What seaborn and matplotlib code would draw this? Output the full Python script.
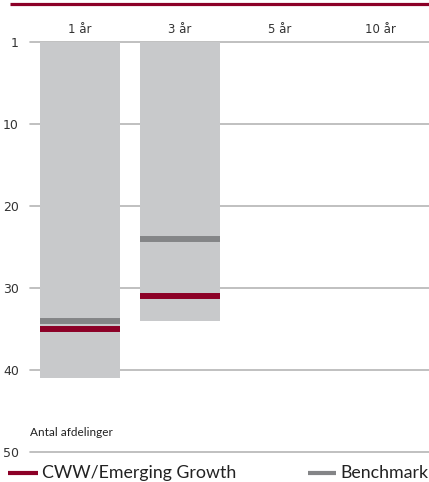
import matplotlib
matplotlib.use("Agg")
import matplotlib.pyplot as plt
from matplotlib.lines import Line2D
import seaborn as sns
import pandas as pd
import numpy as np

# Ranking data per period (rank 1 at the top)
periods = ["1 år", "3 år", "5 år", "10 år"]
num_funds = [41, 34, np.nan, np.nan]      # number of funds in the peer group
fund_rank = [35, 31, np.nan, np.nan]      # CWW/Emerging Growth
benchmark_rank = [34, 24, np.nan, np.nan]  # Benchmark
y_ticks = [0, 10, 20, 30, 40, 50]
y_tick_labels = ["1", "10", "20", "30", "40", "50"]

RED = "#8C0027"
BAR_GREY = "#C8C9CB"
MARK_GREY = "#848587"
GRID = "#B5B5B5"

sns.set_theme(style="white")
plt.rcParams["font.family"] = ["DejaVu Sans"]

fig = plt.figure(figsize=(4.29, 4.82), dpi=100)
W, H = 429, 482
ax = fig.add_axes([30 / W, 1 - 452 / H, 400 / W, 410 / H])

df = pd.DataFrame({"period": periods, "funds": num_funds})
sns.barplot(data=df, x="period", y="funds", order=periods, color=BAR_GREY,
            width=0.8, saturation=1, linewidth=0, edgecolor="none",
            ax=ax, zorder=2)

for i, (b, f) in enumerate(zip(benchmark_rank, fund_rank)):
    if not np.isnan(b):
        ax.hlines(b, i - 0.4, i + 0.4, color=MARK_GREY, lw=4.3, zorder=3)
    if not np.isnan(f):
        ax.hlines(f, i - 0.4, i + 0.4, color=RED, lw=4.3, zorder=4)

ax.set_xlim(-0.5, 3.5)
ax.set_ylim(50, 0)
ax.set_yticks(y_ticks)
ax.set_yticklabels(y_tick_labels, fontsize=9, color="#333333")
for yv in y_ticks:
    ax.axhline(yv, color=GRID, lw=1.2, zorder=1, clip_on=False)

ax.xaxis.tick_top()
ax.tick_params(axis="x", length=0, pad=4, labelsize=8.5, labelcolor="#333333")
ax.tick_params(axis="y", length=0, pad=8)
ax.set_xlabel("")
ax.set_ylabel("")
for s in ax.spines.values():
    s.set_visible(False)

# Top rule
fig.add_artist(Line2D([10 / W, 1], [1 - 4 / H, 1 - 4 / H], color=RED, lw=2.3,
                      solid_capstyle="butt"))

fig.text(30 / W, 1 - 433 / H, "Antal afdelinger", fontsize=8.5, family="Lato",
         color="#222222", va="center", ha="left")

# Legend
ly = 1 - 473 / H
fig.add_artist(Line2D([8 / W, 38 / W], [ly, ly], color=RED, lw=3,
                      solid_capstyle="butt"))
fig.text(42 / W, 1 - 478 / H, "CWW/Emerging Growth", fontsize=12.8, family="Lato",
         color="#222222", va="baseline", ha="left")
fig.add_artist(Line2D([308 / W, 336 / W], [ly, ly], color=MARK_GREY, lw=3,
                      solid_capstyle="butt"))
fig.text(340 / W, 1 - 478 / H, "Benchmark", fontsize=12.8, family="Lato",
         color="#222222", va="baseline", ha="left")

fig.savefig("out.png", dpi=100)
